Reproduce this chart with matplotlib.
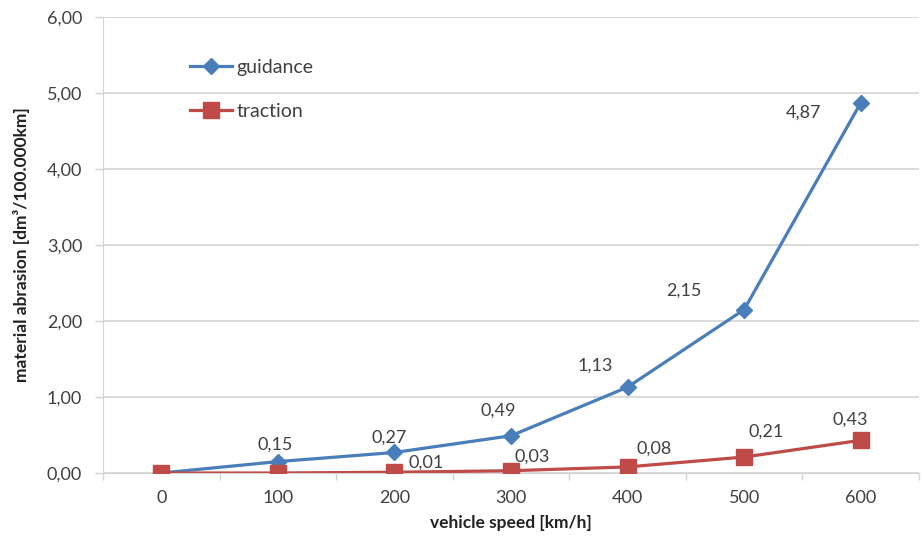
import matplotlib.pyplot as plt
from matplotlib.ticker import FixedLocator

# data
speeds = [0, 100, 200, 300, 400, 500, 600]
guidance = [0.00, 0.15, 0.27, 0.49, 1.13, 2.15, 4.87]
traction = [0.00, 0.00, 0.01, 0.03, 0.08, 0.21, 0.43]
guidance_labels = [None, "0,15", "0,27", "0,49", "1,13", "2,15", "4,87"]
traction_labels = [None, None, "0,01", "0,03", "0,08", "0,21", "0,43"]
yticks = [0, 1, 2, 3, 4, 5, 6]

# label offsets in pixels (dx, dy)
g_off = [None, (-3, 17), (-5, 15), (-13, 25), (-32, 21), (-60, 19), (-57, -10)]
t_off = [None, None, (32, 10), (21, 14), (27, 18), (22, 25), (-10, 21)]

plt.rcParams['font.family'] = ['Lato', 'DejaVu Sans']

blue = '#4a7ebb'
red = '#be4b48'
grid_c = '#d4d4d4'
txt_c = '#404040'
fs = 13

fig = plt.figure(figsize=(9.22, 5.42), dpi=100)
ax = fig.add_axes([103/922, 1 - 473/542, (919 - 103)/922, (473 - 17)/542])

ax.plot(speeds, guidance, '-D', color=blue, lw=2.3, ms=8, label='guidance', zorder=3)
ax.plot(speeds, traction, '-s', color=red, lw=2.3, ms=11, label='traction', zorder=4)

for x, y, lab, off in zip(speeds, guidance, guidance_labels, g_off):
    if lab:
        ax.annotate(lab, (x, y), xytext=off, textcoords='offset pixels',
                    ha='center', va='center', fontsize=fs, color=txt_c)
for x, y, lab, off in zip(speeds, traction, traction_labels, t_off):
    if lab:
        ax.annotate(lab, (x, y), xytext=off, textcoords='offset pixels',
                    ha='center', va='center', fontsize=fs, color=txt_c)

ax.set_xlim(-50, 650)
ax.set_ylim(0, 6)
ax.set_xticks(speeds)
ax.set_xticklabels([str(s) for s in speeds])
ax.xaxis.set_minor_locator(FixedLocator([s - 50 for s in speeds] + [650]))
ax.set_yticks(yticks)
ax.set_yticklabels(['{:.2f}'.format(v).replace('.', ',') for v in yticks])

ax.tick_params(axis='x', which='major', length=0, pad=12, labelsize=fs, labelcolor=txt_c)
ax.tick_params(axis='x', which='minor', length=5, color=grid_c, width=1)
ax.tick_params(axis='y', length=6, color=grid_c, width=1, pad=9, labelsize=fs, labelcolor=txt_c)

ax.grid(axis='y', color=grid_c, lw=1.2)
ax.set_axisbelow(True)
for s in ['top', 'right']:
    ax.spines[s].set_visible(False)
ax.spines['left'].set_color(grid_c)
ax.spines['bottom'].set_color(grid_c)

ax.set_xlabel('vehicle speed [km/h]', fontsize=12.5, fontweight='bold', color='#222222', labelpad=7)
ax.set_ylabel('material abrasion [dm³/100.000km]', fontsize=12.5, fontweight='bold', color='#222222', labelpad=12)

ax.legend(loc='center left', bbox_to_anchor=(190/922, 1 - 89.5/542), bbox_transform=fig.transFigure,
          frameon=False, fontsize=14, handlelength=2.15, handletextpad=0.26,
          labelspacing=1.4, borderpad=0, borderaxespad=0, labelcolor=txt_c)

fig.savefig('out.png', dpi=100)
